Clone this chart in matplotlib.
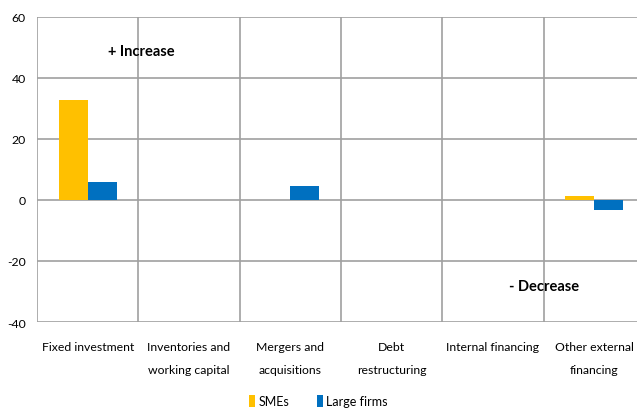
import matplotlib
matplotlib.use("Agg")
import matplotlib.pyplot as plt
import numpy as np

categories = ["Fixed investment", "Inventories and\nworking capital", "Mergers and\nacquisitions",
              "Debt\nrestructuring", "Internal financing", "Other external\nfinancing"]
smes = [32.8, 0, 0, 0, 0, 1.2]
large = [5.8, 0, 4.5, 0, 0, -3.2]
yticks = [-40, -20, 0, 20, 40, 60]

plt.rcParams['font.family'] = ['Lato', 'DejaVu Sans']

W, H = 637, 410
fig = plt.figure(figsize=(W/100, H/100), dpi=100)
left, right, top, bottom = 37, 645, 18, 323
ax = fig.add_axes([left/W, 1-bottom/H, (right-left)/W, (bottom-top)/H])

x = np.arange(len(categories))
bw = 0.287
ax.bar(x - bw/2, smes, bw, color="#FFC000", label="SMEs", zorder=3)
ax.bar(x + bw/2, large, bw, color="#0070C0", label="Large firms", zorder=3)

ax.set_xlim(-0.5, len(categories) - 0.5)
ax.set_ylim(-40, 60)
ax.set_yticks(yticks)
ax.set_yticklabels([str(v) for v in yticks], fontsize=8.8)
for v in yticks:
    ax.axhline(v, color="#a0a0a0", lw=1.2, zorder=1)
for b in np.arange(0.5, len(categories) - 0.5, 1):
    ax.axvline(b, color="#a0a0a0", lw=1.2, zorder=1)
ax.axvline(-0.5, color="#a0a0a0", lw=1.2, zorder=1)

ax.set_xticks(x)
ax.set_xticklabels(categories, fontsize=8.8, linespacing=2.3)
ax.tick_params(axis='both', length=0)
ax.tick_params(axis='x', pad=14)
ax.tick_params(axis='y', pad=8)
for s in ax.spines.values():
    s.set_visible(False)

ax.text(0.53, 49, "+ Increase", fontsize=10.5, fontweight='bold', ha='center', va='center')
ax.text(4.5, -28.2, "- Decrease", fontsize=10.5, fontweight='bold', ha='center', va='center')

fig.legend(loc='center', bbox_to_anchor=(0.5, 1 - 402/410), ncol=2, frameon=False,
           fontsize=9, handlelength=0.45, handleheight=1.1, handletextpad=0.3,
           columnspacing=2.2, borderpad=0.0)

fig.savefig("out.png", dpi=100)
